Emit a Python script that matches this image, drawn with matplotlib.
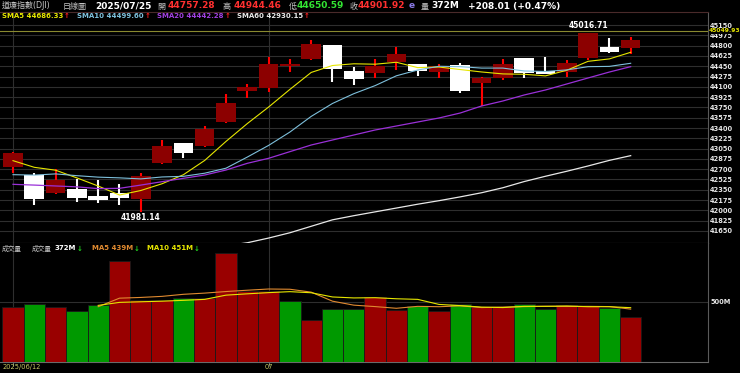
import numpy as np
import matplotlib.pyplot as plt

plt.rcParams['font.family'] = ['DejaVu Sans', 'Noto Sans CJK TC']

# daily bars 2025/06/12 .. 2025/07/25
opens = [42737, 42601, 42296, 42364, 42245, 42296, 42194, 42805, 43145, 43094,
         43502, 44029, 44080, 44450, 44572, 44810, 44368, 44334, 44521, 44487,
         44351, 44470, 44165, 44250, 44589, 44368, 44351, 44589, 44776, 44757.28]
highs = [42990, 42636, 42703, 42533, 42516, 42449, 42636, 43196, 43150, 43434,
         43978, 44148, 44606, 44572, 44895, 44815, 44436, 44572, 44776, 44495,
         44487, 44504, 44260, 44572, 44595, 44606, 44555, 45016.71, 44929, 44944.46]
lows = [42636, 42092, 42280, 42143, 42126, 42092, 41981.14, 42790, 42890, 43080,
        43490, 43910, 44012, 44351, 44560, 44182, 44131, 44250, 44385, 44284,
        44250, 43995, 43774, 44216, 44250, 44310, 44267, 44555, 44680, 44650.59]
closes = [42967.62, 42197.79, 42515.09, 42215.80, 42171.66, 42206.82, 42581.78, 43089.02, 42982.43, 43386.84,
          43819.27, 44094.77, 44494.94, 44484.42, 44828.53, 44406.36, 44240.76, 44458.30, 44650.64, 44371.51,
          44459.65, 44023.29, 44254.78, 44484.49, 44342.19, 44323.07, 44502.44, 45010.29, 44693.91, 44901.92]
prev_close = 42865.77

sma5 = [42845, 42732, 42683, 42552, 42414, 42261, 42338, 42453, 42606, 42849,
        43172, 43475, 43756, 44056, 44344, 44462, 44491, 44484, 44517, 44426,
        44436, 44393, 44352, 44319, 44313, 44286, 44381, 44533, 44574, 44686.33]
sma10 = [42607, 42600, 42620, 42590, 42565, 42553, 42535, 42568, 42579, 42632,
         42717, 42906, 43104, 43331, 43597, 43817, 43983, 44120, 44287, 44385,
         44449, 44442, 44418, 44418, 44369, 44361, 44387, 44442, 44447, 44499.60]
sma20 = [42443, 42430, 42415, 42400, 42370, 42375, 42430, 42488, 42545, 42601,
         42686, 42800, 42885, 42998, 43111, 43196, 43281, 43366, 43434, 43502,
         43570, 43655, 43774, 43859, 43961, 44046, 44148, 44250, 44351, 44442.28]
sma60 = [41080, 41100, 41120, 41140, 41160, 41190, 41220, 41260, 41300, 41350,
         41400, 41450, 41530, 41620, 41730, 41840, 41910, 41975, 42040, 42105,
         42165, 42230, 42300, 42385, 42490, 42580, 42665, 42755, 42850, 42930.15]

# volume in millions
volume = [458, 482, 458, 424, 474, 840, 516, 516, 532, 532,
          907, 591, 591, 508, 349, 441, 441, 540, 432, 466,
          425, 485, 460, 458, 485, 440, 470, 465, 450, 372]
vol_ma5 = [470, 470, 468, 462, 459, 530, 536, 545, 562, 572,
           585, 596, 606, 604, 580, 505, 472, 460, 446, 462,
           459, 466, 452, 456, 460, 463, 461, 462, 460, 439]
vol_ma10 = [470, 470, 466, 465, 470, 495, 500, 505, 512, 520,
            555, 566, 576, 584, 575, 540, 532, 534, 525, 520,
            478, 468, 456, 452, 462, 462, 465, 459, 459, 451]

date_ticks = [0, 12]
date_labels = ['2025/06/12', '07']
price_ticks = list(range(41650, 45151, 175))
ref_price = 45049.93
high_mark = (27, 45016.71)
low_mark = (6, 41981.14)

W, H = 740, 373
def fx(px):
    return px / W
def fy(py):
    return 1 - py / H

fig = plt.figure(figsize=(7.4, 3.73), dpi=100, facecolor='black')
ax = fig.add_axes([0, fy(243), fx(708), fy(12) - fy(243)], facecolor='black')
axv = fig.add_axes([0, fy(362), fx(708), fy(243) - fy(362)], facecolor='black')

x = np.arange(len(closes))
o = np.array(opens)
c = np.array(closes)
up = c >= o
body_col = np.where(up, '#8c0000', '#ffffff')
wick_col = np.where(up, '#ff0000', '#ffffff')

ax.vlines(x, lows, highs, colors=wick_col, lw=1.5, zorder=3)
ax.bar(x, np.maximum(np.abs(c - o), 18), bottom=np.minimum(o, c), width=0.92,
       color=body_col, zorder=4)

ax.plot(x, sma5, color='#e6e600', lw=0.8, zorder=5)
ax.plot(x, sma10, color='#7ec0dc', lw=0.8, zorder=5)
ax.plot(x, sma20, color='#9a30d8', lw=0.9, zorder=5)
ax.plot(x, sma60, color='#e8e8e8', lw=0.9, zorder=5)

ax.axhline(ref_price, color='#8a8a30', lw=0.8, zorder=2)
ax.annotate(f'{ref_price:.2f}', xy=(1.0, ref_price), xycoords=ax.get_yaxis_transform(),
            xytext=(1, 0), textcoords='offset pixels',
            ha='left', va='center', fontsize=4.3, fontweight='bold', color='#e6e600',
            bbox=dict(facecolor='black', edgecolor='none', pad=0.2),
            annotation_clip=False, zorder=6)
ax.text(high_mark[0], high_mark[1] + 40, f'{high_mark[1]:.2f}', ha='center', va='bottom',
        fontsize=5.5, fontweight='bold', color='white', zorder=6)
ax.text(low_mark[0], low_mark[1] - 30, f'{low_mark[1]:.2f}', ha='center', va='top',
        fontsize=5.5, fontweight='bold', color='white', zorder=6)

xlim = (-0.61, 32.63)
ax.set_xlim(xlim)
ax.set_ylim(41446, 45371)
ax.set_yticks(price_ticks)
ax.set_xticks(date_ticks)
ax.grid(axis='both', color='#2e2e2e', lw=0.8, zorder=0)
ax.tick_params(axis='y', left=False, labelleft=False, right=True, labelright=True,
               length=0, pad=1.5, labelsize=4.8, labelcolor='#e6e6e6')
ax.tick_params(axis='x', bottom=False, labelbottom=False)
for lab in ax.get_yticklabels():
    lab.set_fontweight('bold')
ax.spines['left'].set_visible(False)
ax.spines['top'].set_color('#4a2a2a')
ax.spines['right'].set_color('#5a5a5a')
ax.spines['bottom'].set_color('#6a6a6a')

# volume panel
prev = np.concatenate([[prev_close], c[:-1]])
vol_col = np.where(c >= prev, '#990000', '#009900')
axv.bar(x, volume, width=1.0, color=vol_col, edgecolor='#1a1a1a', lw=0.6, zorder=3)
axv.plot(x[4:], vol_ma5[4:], color='#e08a30', lw=0.8, zorder=4)
axv.plot(x[4:], vol_ma10[4:], color='#e6e600', lw=0.8, zorder=4)
axv.set_xlim(xlim)
axv.set_ylim(0, 988)
axv.set_yticks([500])
axv.set_yticklabels(['500M'])
axv.set_xticks(date_ticks)
axv.grid(axis='both', color='#2e2e2e', lw=0.8, zorder=0)
axv.tick_params(axis='y', left=False, labelleft=False, right=True, labelright=True,
                length=0, pad=1.5, labelsize=4.8, labelcolor='#e6e6e6')
axv.tick_params(axis='x', length=3, color='#6a6a6a', labelbottom=False)
for lab in axv.get_yticklabels():
    lab.set_fontweight('bold')
axv.spines['left'].set_visible(False)
axv.spines['top'].set_visible(False)
axv.spines['right'].set_color('#5a5a5a')
axv.spines['bottom'].set_color('#6a6a6a')

# date labels under the volume panel
for pos, txt, dx, ha in zip(date_ticks, date_labels, [-10, 0], ['left', 'center']):
    axv.annotate(txt, xy=(pos, 0), xycoords=('data', 'axes fraction'),
                 xytext=(dx, -2), textcoords='offset pixels', ha=ha, va='top',
                 fontsize=4.8, color='#c8c864', annotation_clip=False)


def label(px, py, s, color, size, weight='bold'):
    return fig.text(fx(px), fy(py), s, color=color, fontsize=size,
                    fontweight=weight, ha='left', va='center', zorder=10)


def chain(t, s, color, size, gap=1, weight='bold'):
    return axv.annotate(s, xy=(1, 0.5), xycoords=t, xytext=(gap, 0),
                        textcoords='offset points', va='center', ha='left',
                        color=color, fontsize=size, fontweight=weight,
                        annotation_clip=False, zorder=10)


# header row 1
grey = '#c4c4c4'
red = '#ff3030'
label(2, 6, '道瓊指數(DJI)', grey, 5.8, 'normal')
label(63, 6, '日線圖', grey, 5.8, 'normal')
label(95, 6, '2025/07/25', 'white', 6.5)
label(157, 6, '開', grey, 5.8, 'normal')
label(168, 6, f'{opens[-1]:.2f}', red, 6.5)
label(223, 6, '高', grey, 5.8, 'normal')
label(234, 6, f'{highs[-1]:.2f}', red, 6.5)
label(289, 6, '低', grey, 5.8, 'normal')
label(297, 6, f'{lows[-1]:.2f}', '#33e633', 6.5)
label(350, 6, '收', grey, 5.8, 'normal')
label(358, 6, f'{closes[-1]:.2f}', red, 6.5)
label(409, 6, 'e', '#8a7ae6', 6.5)
label(421, 6, '量', grey, 5.8, 'normal')
label(431, 6, f'{volume[-1]}M', 'white', 6.5)
label(468, 6, '+208.01 (+0.47%)', 'white', 6.5)

# header row 2 (moving averages)
for px, name, val, col in [(2, 'SMA5', sma5[-1], '#e6e600'),
                           (77, 'SMA10', sma10[-1], '#7ec0dc'),
                           (157, 'SMA20', sma20[-1], '#a040e0'),
                           (237, 'SMA60', sma60[-1], '#e8e8e8')]:
    t = label(px, 16.5, f'{name} {val:.2f}', col, 5)
    chain(t, '↑', '#ff2020', 5, gap=0.5)

# volume header
label(2, 248.5, '成交量', grey, 4.8, 'normal')
t = label(32, 248.5, '成交量', grey, 4.8, 'normal')
t = chain(t, f'{volume[-1]}M', 'white', 5, gap=2)
chain(t, '↓', '#20d020', 5, gap=0.5)
t = label(92, 248.5, f'MA5 {vol_ma5[-1]}M', '#e08a30', 5)
chain(t, '↓', '#20d020', 5, gap=0.5)
t = label(147, 248.5, f'MA10 {vol_ma10[-1]}M', '#e6e600', 5)
chain(t, '↓', '#20d020', 5, gap=0.5)

fig.savefig('out.png', dpi=100, facecolor='black')
